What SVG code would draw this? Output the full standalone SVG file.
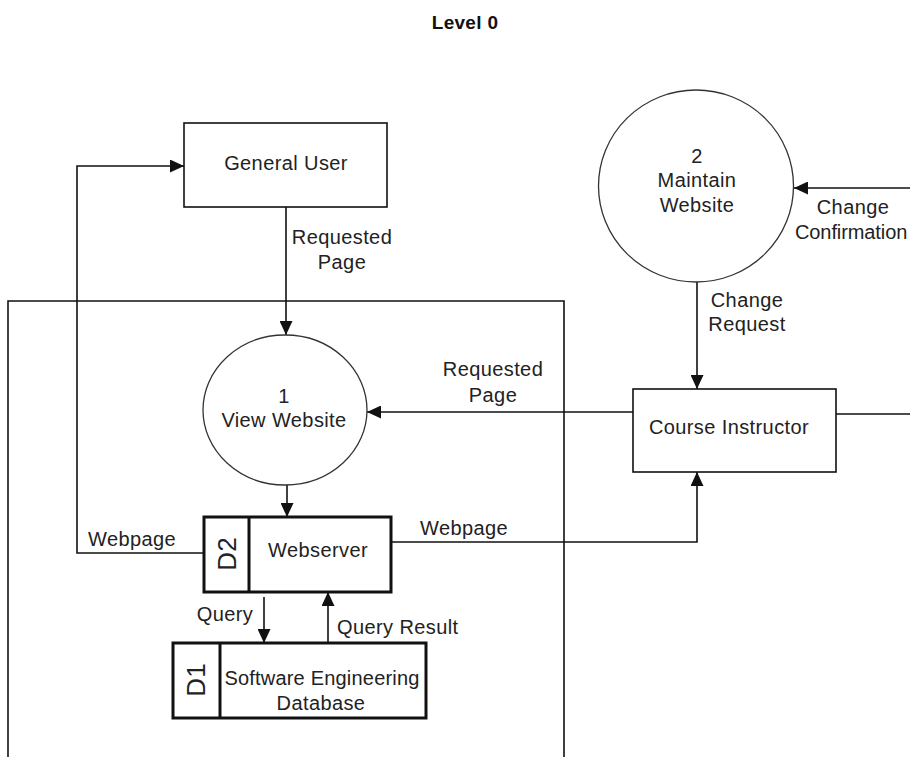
<svg xmlns="http://www.w3.org/2000/svg" width="910" height="757" viewBox="0 0 910 757">
  <style>
    text { font-family: "Liberation Sans", Arial, sans-serif; font-size: 20px; fill: #222; letter-spacing: 0.4px; }
    .title { font-weight: bold; font-size: 19px; fill: #111; letter-spacing: 0.3px; }
    .tag { font-size: 26px; letter-spacing: 0; }
    .mid { text-anchor: middle; }
    .box { fill: #fff; stroke: #111; stroke-width: 1.6; }
    .proc { fill: #fff; stroke: #333; stroke-width: 1.3; }
    .store { fill: #fff; stroke: #111; stroke-width: 3; }
    .flow { fill: none; stroke: #111; stroke-width: 1.6; }
  </style>
  <defs>
    <marker id="arrow" markerUnits="userSpaceOnUse" markerWidth="15" markerHeight="13" refX="14" refY="6.5" orient="auto">
      <path d="M0,0 L14,6.5 L0,13 Z" fill="#111"/>
    </marker>
  </defs>

  <rect width="910" height="757" fill="#fff"/>

  <text class="title mid" x="465" y="29">Level 0</text>

  <!-- system boundary -->
  <path id="boundary" class="flow" d="M8,757 V301 H564 V757"/>

  <!-- data flows -->
  <g id="connectors">
    <path class="flow" d="M286,207 V335" marker-end="url(#arrow)"/>
    <path class="flow" d="M204,553 H77 V166 H184" marker-end="url(#arrow)"/>
    <path class="flow" d="M287,485 V517" marker-end="url(#arrow)"/>
    <path class="flow" d="M633,412 H367" marker-end="url(#arrow)"/>
    <path class="flow" d="M697,282 V389" marker-end="url(#arrow)"/>
    <path class="flow" d="M910,188 H794" marker-end="url(#arrow)"/>
    <path class="flow" d="M836,414 H910"/>
    <path class="flow" d="M391,542 H697 V472" marker-end="url(#arrow)"/>
    <path class="flow" d="M264,597 V643" marker-end="url(#arrow)"/>
    <path class="flow" d="M328,643 V592" marker-end="url(#arrow)"/>

    <text class="mid" x="342" y="244">Requested</text>
    <text class="mid" x="342" y="269">Page</text>
    <text class="mid" x="493" y="376">Requested</text>
    <text class="mid" x="493" y="402">Page</text>
    <text class="mid" x="747" y="307">Change</text>
    <text class="mid" x="747" y="331">Request</text>
    <text class="mid" x="853" y="214">Change</text>
    <text x="795" y="239" style="letter-spacing:-0.1px">Confirmation</text>
    <text class="mid" x="132" y="546">Webpage</text>
    <text class="mid" x="464" y="535">Webpage</text>
    <text class="mid" x="225" y="621">Query</text>
    <text x="337" y="634">Query Result</text>
  </g>

  <g id="general-user">
    <rect class="box" x="184" y="123" width="203" height="84"/>
    <text class="mid" x="286" y="170">General User</text>
  </g>

  <g id="view-website">
    <ellipse class="proc" cx="285" cy="410" rx="82" ry="75"/>
    <text class="mid" x="284" y="403">1</text>
    <text class="mid" x="284" y="427">View Website</text>
  </g>

  <g id="maintain-website">
    <ellipse class="proc" cx="696" cy="186" rx="97.5" ry="96"/>
    <text class="mid" x="697" y="163">2</text>
    <text class="mid" x="697" y="187">Maintain</text>
    <text class="mid" x="697" y="212">Website</text>
  </g>

  <g id="course-instructor">
    <rect class="box" x="633" y="389" width="203" height="83"/>
    <text class="mid" x="729" y="434">Course Instructor</text>
  </g>

  <g id="webserver">
    <rect class="store" x="204" y="517" width="187" height="75"/>
    <line class="store" x1="249" y1="517" x2="249" y2="592"/>
    <text class="tag mid" transform="translate(236,554) rotate(-90)">D2</text>
    <text class="mid" x="318" y="557">Webserver</text>
  </g>

  <g id="database">
    <rect class="store" x="173" y="643" width="253" height="75"/>
    <line class="store" x1="220" y1="643" x2="220" y2="718"/>
    <text class="tag mid" transform="translate(205,680) rotate(-90)">D1</text>
    <text class="mid" x="322" y="685" style="letter-spacing:0.2px">Software Engineering</text>
    <text class="mid" x="321" y="710">Database</text>
  </g>
</svg>
